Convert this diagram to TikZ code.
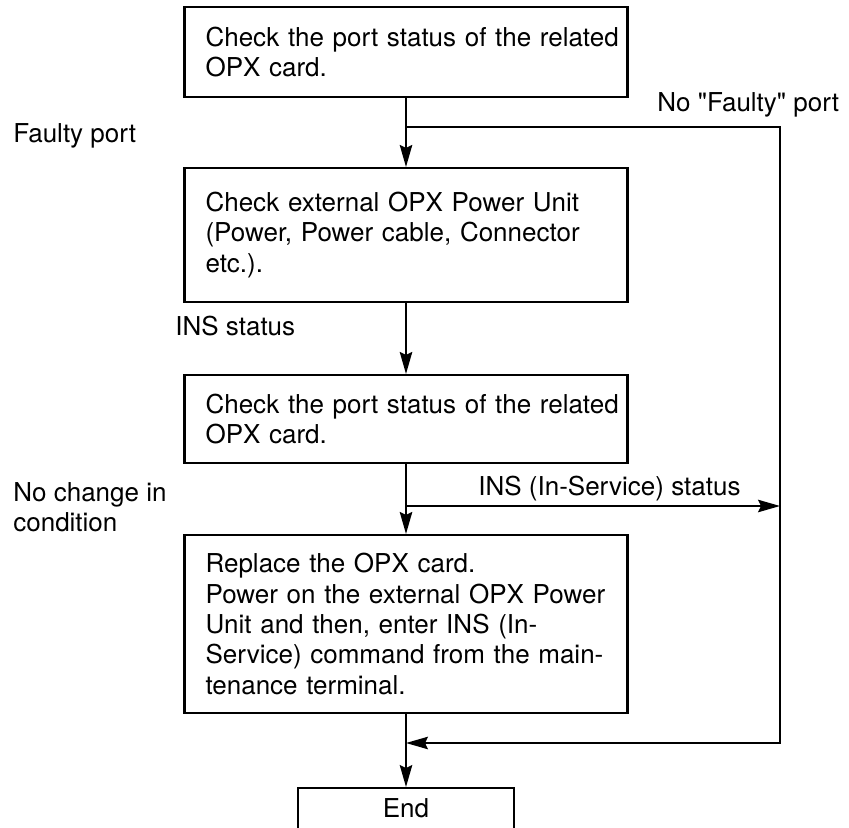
\documentclass[tikz,border=0pt]{standalone}
\usepackage{fontspec}
\setmainfont{TeX Gyre Heros}
\usetikzlibrary{arrows.meta}

\tikzset{
  stepbox/.style={draw, line width=1.2pt, minimum width=8.86cm, text width=8.86cm,
    inner xsep=0pt, align=left, execute at begin node={\leftskip=0.42cm\hyphenpenalty=10000}},
  flow/.style={line width=1pt, -{Stealth[length=0.44cm,width=0.25cm,inset=0.06cm]}},
  note/.style={inner sep=0pt},
}

\begin{document}
\begin{tikzpicture}[x=0.02cm, y=-0.02cm, font=\fontsize{14.8pt}{17.3pt}\selectfont]
\useasboundingbox (0,0) rectangle (849,828);
% steps
\node[stepbox, minimum height=1.8cm] (chk1) at (406,52) {Check the port status of the related\\OPX card.};
\node[stepbox, minimum height=2.68cm] (ext) at (406,235) {Check external OPX Power Unit\\(Power, Power cable, Connector\\etc.).};
\node[stepbox, minimum height=1.76cm] (chk2) at (406,419) {Check the port status of the related\\OPX card.};
\node[stepbox, minimum height=3.56cm] (repl) at (406,624) {Replace the OPX card.\\Power on the external OPX Power\\Unit and then, enter INS (In-\\Service) command from the main-\\tenance terminal.};
\node[draw, line width=1.2pt, anchor=north, minimum width=4.32cm, inner ysep=0.2cm, text depth=0.4em] (done) at (406,787) {End};
% branch points
\coordinate (fork1) at (406,127);
\coordinate (c1) at (780,127);
\coordinate (c2) at (780,743);
\coordinate (join) at (406,743);
\coordinate (fork2) at (406,506);
\coordinate (side) at (780,506);
% connectors
\draw[flow] (chk1.south) -- (ext.north);
\draw[flow] (ext.south) -- (chk2.north);
\draw[flow] (chk2.south) -- (repl.north);
\draw[flow] (repl.south) -- (done.north);
\draw[flow] (fork1) -- (c1) -- (c2) -- (join);
\draw[flow] (fork2) -- (side);
% labels
\node[note, anchor=base west] (lfaulty) at (13,143) {Faulty port};
\node[note, anchor=base west] (lnofaulty) at (657,112) {No \textquotedbl Faulty\textquotedbl\ port};
\node[note, anchor=base west] (lins) at (175,335) {INS status};
\node[note, anchor=north west, align=left] (lnochange) at (13,482) {No change in\\condition};
\node[note, anchor=base west] (linsserv) at (478,495) {INS (In-Service) status};
\end{tikzpicture}
\end{document}
